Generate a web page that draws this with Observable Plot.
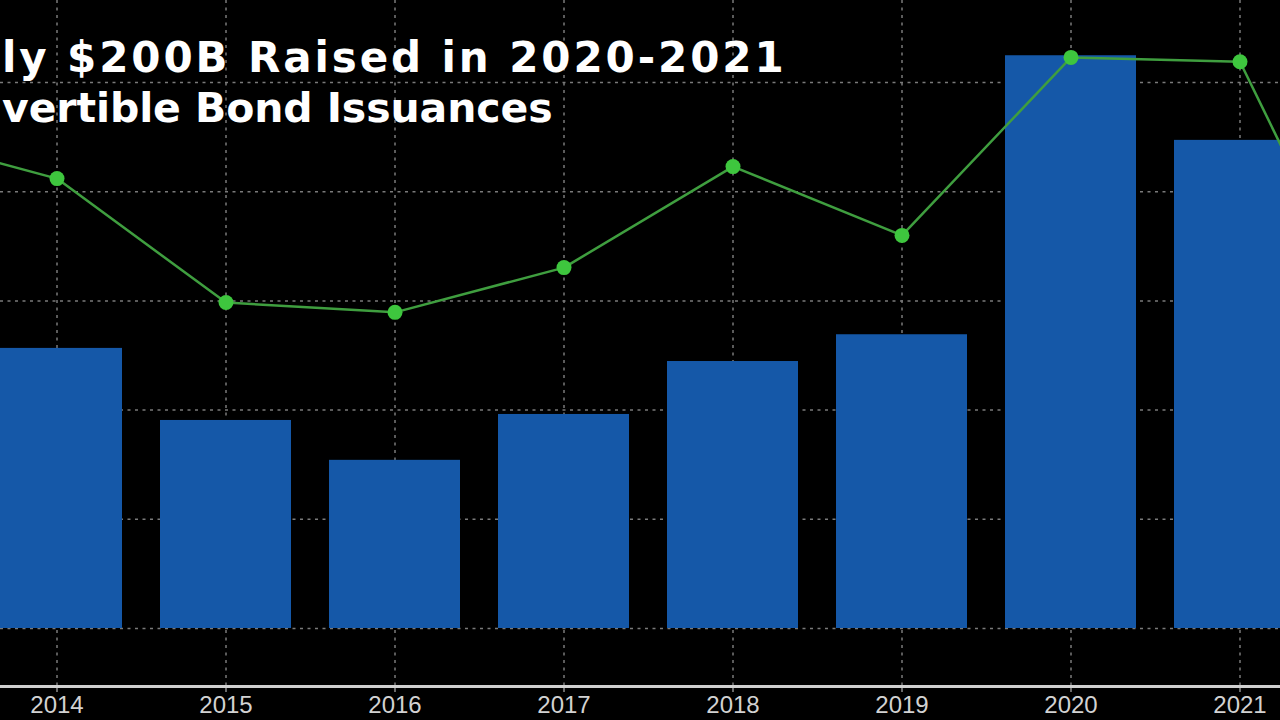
<!DOCTYPE html>
<html>
<head>
<meta charset="utf-8">
<script src="https://cdn.jsdelivr.net/npm/d3@7"></script>
<script src="https://cdn.jsdelivr.net/npm/@observablehq/plot@0.6"></script>
<style>
  html, body { margin: 0; padding: 0; background: #000; }
  #wrap { position: relative; width: 1280px; height: 720px; overflow: hidden; background: #000; }
  .title { position: absolute; white-space: nowrap; color: #fff;
           font-family: "DejaVu Sans", Verdana, sans-serif; font-weight: bold; }
</style>
</head>
<body>
<div id="wrap">
  <div id="chart"></div>
  <div class="title" style="left:2px; top:33px; font-size:42px; letter-spacing:2.9px;">ly $200B Raised in 2020-2021</div>
  <div class="title" style="left:2px; top:84px; font-size:41px; letter-spacing:-0.1px;">vertible Bond Issuances</div>
</div>
<script>
// Years on the (cropped) x axis
const years = [2013, 2014, 2015, 2016, 2017, 2018, 2019, 2020, 2021, 2022];
const tickYears = [2014, 2015, 2016, 2017, 2018, 2019, 2020, 2021];

// Convertible bond issuance, $B (bars)
const barYears = [2014, 2015, 2016, 2017, 2018, 2019, 2020, 2021];
const issuance = [51.3, 38.1, 30.8, 39.2, 48.9, 53.8, 104.9, 89.4];

// Green line series (read in left-axis units)
const lineYears = [2013, 2014, 2015, 2016, 2017, 2018, 2019, 2020, 2021, 2022];
const lineValues = [90.7, 82.4, 59.7, 57.9, 66.1, 84.6, 72.0, 104.6, 103.8, 40.5];

// Gridline values
const yGrid = [0, 20, 40, 60, 80, 100];

const bars = barYears.map((y, i) => ({year: y, value: issuance[i]}));
const line = lineYears.map((y, i) => ({year: y, value: lineValues[i]}));

const plot = Plot.plot({
  width: 1280,
  height: 720,
  marginLeft: 0,
  marginRight: 0,
  marginTop: 0,
  marginBottom: 34,
  style: {background: "#000", color: "#d2d2d2", fontFamily: "'Liberation Sans', Arial, sans-serif", fontSize: "24px"},
  x: {type: "band", domain: years, range: [-178.7, 1474.6], paddingInner: 0.225, paddingOuter: 0,
      ticks: tickYears, tickSize: 6, tickPadding: 3, label: null, tickFormat: d => String(d)},
  y: {domain: [0, 100], range: [628, 82], axis: null},
  marks: [
    Plot.ruleY(yGrid, {stroke: "#7a7a7a", strokeWidth: 1.5, strokeDasharray: "3,4.5"}),
    Plot.ruleX(tickYears, {x: d => d, stroke: "#7a7a7a", strokeWidth: 1.5, strokeDasharray: "3,4.5"}),
    Plot.barY(bars, {x: "year", y: "value", fill: "#1558a8"}),
    Plot.line(line, {x: "year", y: "value", stroke: "#3f9e3f", strokeWidth: 2.5}),
    Plot.dot(line, {x: "year", y: "value", r: 7.5, fill: "#3ec63e", stroke: "none"}),
    Plot.frame({anchor: "bottom", stroke: "#cfcfcf", strokeWidth: 3})
  ]
});
document.getElementById("chart").appendChild(plot);
</script>
</body>
</html>
